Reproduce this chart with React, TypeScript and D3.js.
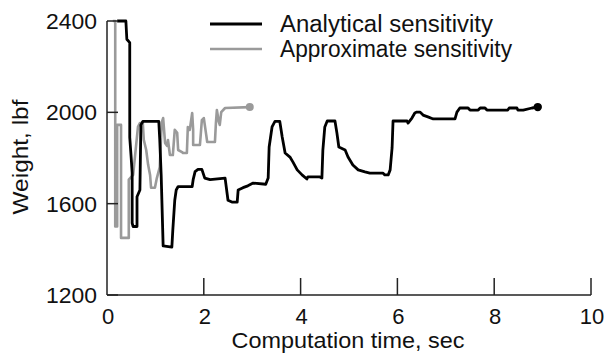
import React from "react";
import * as d3 from "d3";

// Weight history over computation time for the two sensitivity methods
const analyticalTime = [0.21, 0.39, 0.41, 0.47, 0.47, 0.5, 0.52, 0.52, 0.54, 0.62, 0.62, 0.68, 0.7, 0.74, 1.07, 1.09, 1.12, 1.16, 1.34, 1.36, 1.4, 1.43, 1.47, 1.76, 1.78, 1.82, 1.88, 1.96, 2.02, 2.13, 2.44, 2.5, 2.58, 2.69, 2.71, 2.81, 2.91, 3.02, 3.28, 3.33, 3.35, 3.41, 3.47, 3.57, 3.62, 3.68, 3.78, 3.84, 3.93, 4.03, 4.13, 4.15, 4.4, 4.44, 4.46, 4.5, 4.55, 4.71, 4.75, 4.79, 4.92, 4.98, 5.08, 5.19, 5.33, 5.43, 5.7, 5.74, 5.81, 5.85, 5.89, 5.91, 6.2, 6.22, 6.3, 6.36, 6.4, 6.47, 6.53, 6.63, 6.74, 7.19, 7.23, 7.29, 7.46, 7.5, 7.67, 7.71, 7.81, 7.85, 8.28, 8.31, 8.47, 8.49, 8.6, 8.78, 8.9];
const analyticalWeight = [2400, 2400, 2320, 2305, 1890, 1800, 1735, 1515, 1500, 1500, 1630, 1660, 1945, 1960, 1960, 1880, 1720, 1415, 1410, 1485, 1615, 1660, 1675, 1675, 1705, 1740, 1750, 1750, 1712, 1705, 1712, 1615, 1607, 1607, 1660, 1670, 1678, 1690, 1685, 1712, 1848, 1936, 1960, 1960, 1892, 1822, 1804, 1783, 1748, 1726, 1708, 1717, 1717, 1712, 1835, 1936, 1962, 1962, 1910, 1848, 1835, 1804, 1769, 1748, 1739, 1734, 1734, 1726, 1726, 1748, 1844, 1962, 1962, 1953, 1975, 1997, 2001, 2001, 1988, 1980, 1971, 1971, 2001, 2019, 2019, 2010, 2010, 2019, 2019, 2010, 2010, 2019, 2019, 2010, 2010, 2019, 2023];

const approxTime = [0.12, 0.17, 0.17, 0.21, 0.21, 0.29, 0.29, 0.45, 0.45, 0.54, 0.64, 0.68, 0.74, 0.76, 0.81, 0.85, 0.89, 0.91, 0.99, 1.03, 1.09, 1.13, 1.16, 1.2, 1.24, 1.26, 1.3, 1.36, 1.4, 1.45, 1.47, 1.55, 1.57, 1.65, 1.67, 1.71, 1.76, 1.78, 1.78, 1.92, 1.96, 2.0, 2.05, 2.07, 2.23, 2.25, 2.27, 2.31, 2.33, 2.36, 2.44, 2.95];
const approxWeight = [2400, 2400, 1500, 1500, 1945, 1945, 1450, 1450, 1705, 1726, 1936, 1953, 1953, 1880, 1835, 1770, 1726, 1670, 1670, 1712, 1760, 1955, 1975, 1866, 1853, 1879, 1813, 1813, 1923, 1910, 1835, 1826, 1822, 1822, 1936, 1923, 1997, 1923, 1857, 1857, 1966, 1975, 1901, 1870, 1870, 1953, 2010, 1958, 1945, 2001, 2019, 2023];

const xTicks = [0, 2, 4, 6, 8, 10];
const yTicks = [1200, 1600, 2000, 2400];

const seriesNames = ["Analytical sensitivity", "Approximate sensitivity"];

const W = 613;
const H = 356;
const FONT = "'Liberation Sans', Arial, Helvetica, sans-serif";
const AXIS = "#222";
const INK = "#111";
const BLACK = "#000";
const GRAY = "#9a9a9a";

export default function App() {
  const x = d3.scaleLinear().domain([0, 10]).range([107, 591]);
  const y = d3.scaleLinear().domain([1200, 2400]).range([295, 21]);

  const line = d3
    .line<[number, number]>()
    .x((d) => x(d[0]))
    .y((d) => y(d[1]));

  const analytical: [number, number][] = analyticalTime.map((t, i) => [t, analyticalWeight[i]]);
  const approx: [number, number][] = approxTime.map((t, i) => [t, approxWeight[i]]);

  const aEnd = analytical[analytical.length - 1];
  const pEnd = approx[approx.length - 1];

  return (
    <svg
      width={W}
      height={H}
      viewBox={`0 0 ${W} ${H}`}
      style={{ position: "absolute", left: 0, top: 0, background: "#fff" }}
      fontFamily={FONT}
    >
      {/* series */}
      <path d={line(approx) || ""} fill="none" stroke={GRAY} strokeWidth={2.6} strokeLinejoin="round" />
      <circle cx={x(pEnd[0])} cy={y(pEnd[1])} r={4} fill={GRAY} />
      <path d={line(analytical) || ""} fill="none" stroke={BLACK} strokeWidth={2.8} strokeLinejoin="round" />
      <circle cx={x(aEnd[0])} cy={y(aEnd[1])} r={4.2} fill={BLACK} />

      {/* axes */}
      <line x1={x(0)} x2={x(0)} y1={y(2400)} y2={y(1200)} stroke={AXIS} strokeWidth={1.5} />
      <line x1={x(0)} x2={x(10)} y1={y(1200)} y2={y(1200)} stroke={AXIS} strokeWidth={1.5} />
      {yTicks.map((v) => (
        <g key={"y" + v}>
          <line x1={x(0)} x2={x(0) + 11} y1={y(v)} y2={y(v)} stroke={AXIS} strokeWidth={1.5} />
          <text
            x={97}
            y={y(v)}
            dy="0.36em"
            textAnchor="end"
            fontSize={22}
            textLength={51}
            lengthAdjust="spacingAndGlyphs"
            fill={INK}
          >
            {v}
          </text>
        </g>
      ))}
      {xTicks.map((v) => (
        <g key={"x" + v}>
          {v > 0 && (
            <line x1={x(v)} x2={x(v)} y1={y(1200)} y2={y(1200) - 17} stroke={AXIS} strokeWidth={1.5} />
          )}
          <text x={x(v) + 1} y={323.5} textAnchor="middle" fontSize={22} fill={INK}>
            {v}
          </text>
        </g>
      ))}

      {/* axis titles */}
      <text x={348} y={348} textAnchor="middle" fontSize={22} textLength={233} lengthAdjust="spacingAndGlyphs" fill={INK}>
        Computation time, sec
      </text>
      <text
        transform="translate(28,157) rotate(-90)"
        textAnchor="middle"
        fontSize={22}
        textLength={115}
        lengthAdjust="spacingAndGlyphs"
        fill={INK}
      >
        Weight, lbf
      </text>

      {/* legend */}
      <line x1={210} x2={262} y1={24} y2={24} stroke={BLACK} strokeWidth={2.8} />
      <text x={280} y={31.5} fontSize={23} textLength={213} lengthAdjust="spacingAndGlyphs" fill={INK}>
        {seriesNames[0]}
      </text>
      <line x1={210} x2={262} y1={49} y2={49} stroke={GRAY} strokeWidth={2.6} />
      <text x={280} y={56.5} fontSize={23} textLength={232} lengthAdjust="spacingAndGlyphs" fill={INK}>
        {seriesNames[1]}
      </text>
    </svg>
  );
}
